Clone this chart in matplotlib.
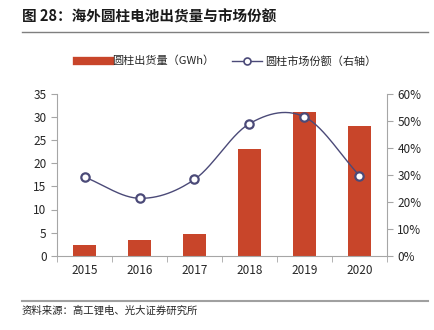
import numpy as np
import matplotlib.pyplot as plt
from matplotlib.ticker import PercentFormatter

plt.rcParams['font.family'] = ['Noto Sans CJK SC', 'DejaVu Sans']

# overseas cylindrical battery shipments and market share
years = ['2015', '2016', '2017', '2018', '2019', '2020']
shipments = [2.4, 3.4, 4.6, 23.2, 31.1, 28.0]   # GWh
share = [29.2, 21.3, 28.3, 49.0, 51.5, 29.7]    # %

bar_color = '#C8452A'
line_color = '#4B4A78'
axis_gray = '#A6A6A6'


def smooth_curve(xs, ys, n=30):
    # Catmull-Rom curve through the points, like a smoothed line in Excel
    xs = np.asarray(xs, float)
    ys = np.asarray(ys, float)
    px = np.concatenate([[2 * xs[0] - xs[1]], xs, [2 * xs[-1] - xs[-2]]])
    py = np.concatenate([[2 * ys[0] - ys[1]], ys, [2 * ys[-1] - ys[-2]]])
    out_x, out_y = [], []
    t = np.linspace(0, 1, n)
    for i in range(1, len(px) - 2):
        for p, out in ((px, out_x), (py, out_y)):
            p0, p1, p2, p3 = p[i - 1], p[i], p[i + 1], p[i + 2]
            out.extend(0.5 * (2 * p1 + (-p0 + p2) * t
                              + (2 * p0 - 5 * p1 + 4 * p2 - p3) * t ** 2
                              + (-p0 + 3 * p1 - 3 * p2 + p3) * t ** 3))
    return np.array(out_x), np.array(out_y)


fig = plt.figure(figsize=(4.35, 3.30), dpi=100)
ax = fig.add_axes([57 / 435, 1 - 255.7 / 330, 330 / 435, 161.7 / 330])
ax2 = ax.twinx()

x = np.arange(len(years))
ax.bar(x, shipments, width=0.41, color=bar_color, zorder=2,
       label='圆柱出货量（GWh）')

sx, sy = smooth_curve(x, share)
ax2.plot(sx, sy, color=line_color, lw=1.0, zorder=3)
ax2.plot(x, share, ls='none', marker='o', ms=6, mfc='white', mec=line_color,
         mew=1.6, zorder=4)

ax.set_xlim(-0.5, 5.5)
ax.set_ylim(0, 35)
ax.set_yticks(range(0, 36, 5))
ax2.set_ylim(0, 60)
ax2.set_yticks(range(0, 61, 10))
ax2.yaxis.set_major_formatter(PercentFormatter(decimals=0))

ax.set_xticks(x)
ax.set_xticklabels(years)
ax.set_xticks(np.arange(-0.5, 6.0, 1.0), minor=True)
ax.tick_params(axis='x', which='major', length=0, pad=6)
ax.tick_params(axis='x', which='minor', length=4, color=axis_gray, direction='out')

for a in (ax, ax2):
    a.patch.set_visible(False)
    a.spines['top'].set_visible(False)
    for s in ('left', 'right', 'bottom'):
        a.spines[s].set_color(axis_gray)
        a.spines[s].set_linewidth(0.8)
    a.tick_params(axis='y', length=4, color=axis_gray, labelsize=8.5,
                  labelcolor='#262626')
    a.tick_params(axis='x', labelsize=8.5, labelcolor='#262626')
ax.spines['right'].set_visible(False)
ax2.spines['left'].set_visible(False)
ax2.spines['bottom'].set_visible(False)

# legend
fig.lines.append(plt.Line2D([77 / 435, 110 / 435], [1 - 61 / 330] * 2,
                            color=bar_color, lw=6, transform=fig.transFigure))
fig.text(112 / 435, 1 - 61 / 330, '圆柱出货量（GWh）', fontsize=8,
         va='center', color='#262626')
fig.lines.append(plt.Line2D([232 / 435, 262 / 435], [1 - 61 / 330] * 2,
                            color=line_color, lw=1.0, transform=fig.transFigure))
fig.lines.append(plt.Line2D([247 / 435], [1 - 61 / 330], ls='none', marker='o',
                            ms=5, mfc='white', mec=line_color, mew=1.2,
                            transform=fig.transFigure))
fig.text(265 / 435, 1 - 61 / 330, '圆柱市场份额（右轴）', fontsize=8,
         va='center', color='#262626')

# title and source
fig.text(22 / 435, 1 - 17 / 330, '图 28：海外圆柱电池出货量与市场份额',
         fontsize=10.5, fontweight='bold', va='center', color='#1a1a1a')
fig.lines.append(plt.Line2D([22 / 435, 428 / 435], [1 - 32 / 330] * 2,
                            color='#7f7f7f', lw=1.0, transform=fig.transFigure))
fig.lines.append(plt.Line2D([22 / 435, 428 / 435], [1 - 301 / 330] * 2,
                            color='#a0a0a0', lw=1.5, transform=fig.transFigure))
fig.text(22 / 435, 1 - 311 / 330, '资料来源：高工锂电、光大证券研究所',
         fontsize=7.5, va='center', color='#262626')

fig.savefig('out.png', dpi=100)
